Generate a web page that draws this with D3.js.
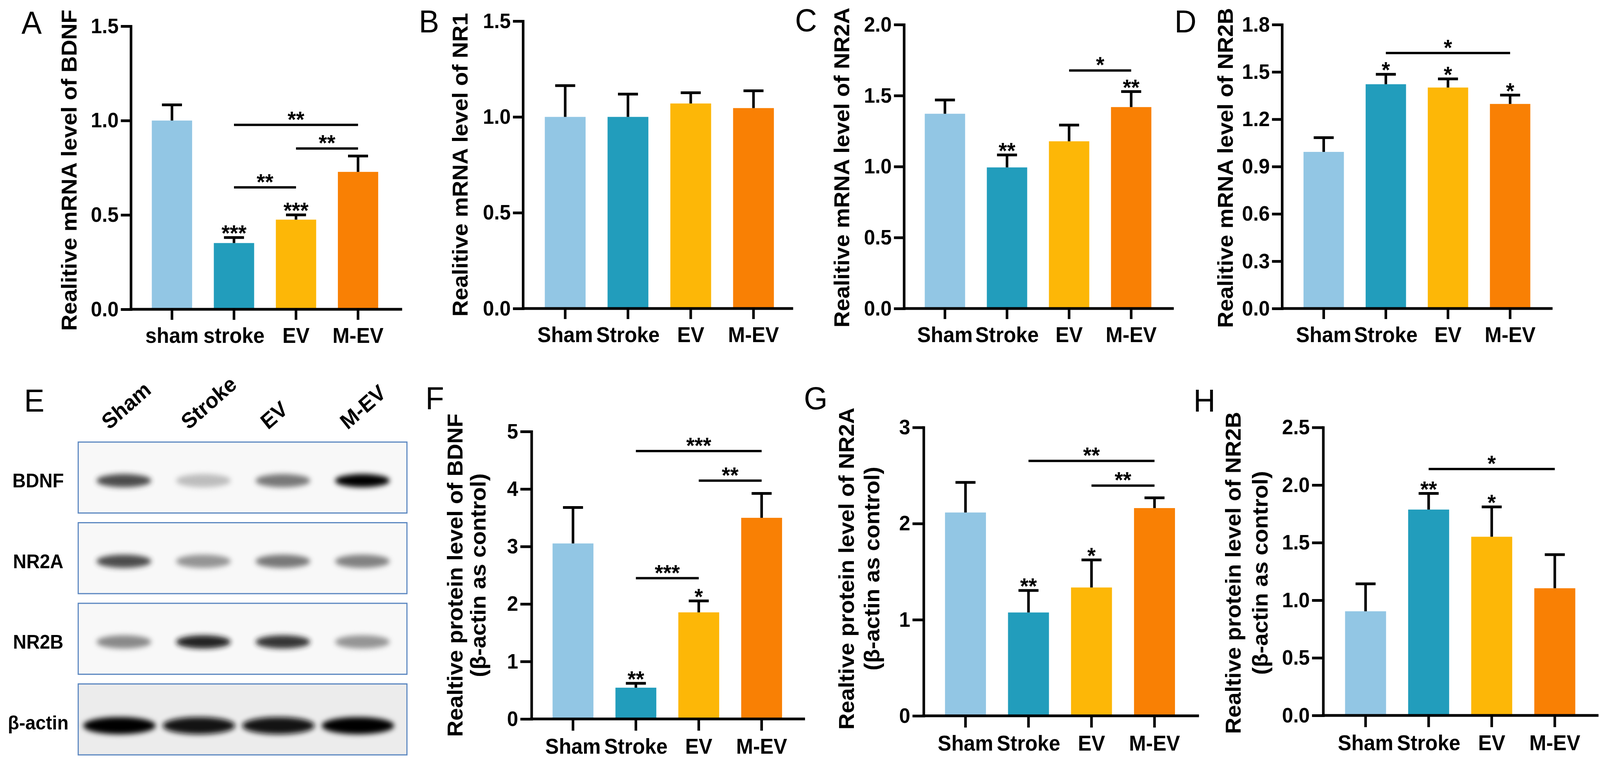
<!DOCTYPE html>
<html>
<head>
<meta charset="utf-8">
<script src="https://cdn.jsdelivr.net/npm/d3@7"></script>
<style>
html, body { margin: 0; padding: 0; background: #fff; overflow: hidden; }
#fig { display: block; width: 100vw; height: 100vh; }
svg text { font-family: "Liberation Sans", Arial, sans-serif; }
</style>
</head>
<body>
<svg id="fig" viewBox="0 0 4317 1941" preserveAspectRatio="none"></svg>
<script>
// categories
const groupsLower = ["sham", "stroke", "EV", "M-EV"]
const groups = ["Sham", "Stroke", "EV", "M-EV"]
const barColors = ["#92c6e4", "#229dbc", "#fdb707", "#f98004"]

// A-D: mRNA (mean, SEM)
const mrnaBDNF = [1.00, 0.351, 0.475, 0.728]
const mrnaBDNFErr = [0.083, 0.029, 0.025, 0.084]
const mrnaNR1 = [1.00, 1.00, 1.07, 1.046]
const mrnaNR1Err = [0.163, 0.119, 0.056, 0.090]
const mrnaNR2A = [1.372, 0.994, 1.178, 1.419]
const mrnaNR2AErr = [0.097, 0.088, 0.114, 0.109]
const mrnaNR2B = [0.993, 1.422, 1.401, 1.297]
const mrnaNR2BErr = [0.090, 0.063, 0.055, 0.056]

// F-H: protein (mean, SEM)
const protBDNF = [3.053, 0.544, 1.854, 3.499]
const protBDNFErr = [0.625, 0.076, 0.200, 0.425]
const protNR2A = [2.115, 1.075, 1.335, 2.161]
const protNR2AErr = [0.313, 0.229, 0.287, 0.107]
const protNR2B = [0.904, 1.787, 1.551, 1.104]
const protNR2BErr = [0.238, 0.140, 0.259, 0.292]

// stars above bars
const starsA = ["", "***", "***", ""]
const starsB = ["", "", "", ""]
const starsC = ["", "**", "", "**"]
const starsD = ["", "*", "*", "*"]
const starsF = ["", "**", "*", ""]
const starsG = ["", "**", "*", ""]
const starsH = ["", "**", "*", ""]

// comparison brackets: [from group, to group, height, label]
const sigA = [[1, 3, 0.977, "**"], [2, 3, 0.852, "**"], [1, 2, 0.646, "**"]]
const sigC = [[2, 3, 1.677, "*"]]
const sigD = [[1, 3, 1.620, "*"]]
const sigF = [[1, 3, 4.66, "***"], [2, 3, 4.145, "**"], [1, 2, 2.449, "***"]]
const sigG = [[1, 3, 2.652, "**"], [2, 3, 2.395, "**"]]
const sigH = [[1, 3, 2.139, "*"]]

// tick values
const ticksA = [0, 0.5, 1.0, 1.5]
const ticksC = [0, 0.5, 1.0, 1.5, 2.0]
const ticksD = [0, 0.3, 0.6, 0.9, 1.2, 1.5, 1.8]
const ticksF = [0, 1, 2, 3, 4, 5]
const ticksG = [0, 1, 2, 3]
const ticksH = [0, 0.5, 1.0, 1.5, 2.0, 2.5]

// western blot
const blotRows = ["BDNF", "NR2A", "NR2B", "β-actin"]
const blotIntensity = [
    [0.78, 0.30, 0.62, 1.00],
    [0.78, 0.50, 0.62, 0.58],
    [0.55, 0.90, 0.85, 0.50],
    [1.00, 0.95, 0.95, 1.00]
]

const svg = d3.select("#fig")

const panels = [
    { letter: "A", lx: 58, ly: 86, groups: groupsLower, values: mrnaBDNF, errs: mrnaBDNFErr, stars: starsA, sig: sigA, ticks: ticksA, fmt: ".1f",
      title: ["Realitive mRNA level of BDNF"], titleX: [207], titleY: 436,
      axisX: 353, axisEnd: 1085, band: [380.3, 1049.7], y0: 792, yTop: 67, row: 0 },
    { letter: "B", lx: 1130, ly: 83, groups: groups, values: mrnaNR1, errs: mrnaNR1Err, stars: starsB, sig: [], ticks: ticksA, fmt: ".1f",
      title: ["Realitive mRNA level of NR1"], titleX: [1262], titleY: 422,
      axisX: 1411, axisEnd: 2140, band: [1440.3, 2117.7], y0: 790, yTop: 54, row: 0 },
    { letter: "C", lx: 2145, ly: 80, groups: groups, values: mrnaNR2A, errs: mrnaNR2AErr, stars: starsC, sig: sigC, ticks: ticksC, fmt: ".1f",
      title: ["Realitive mRNA level of NR2A"], titleX: [2291], titleY: 429,
      axisX: 2439, axisEnd: 3167, band: [2465.8, 3135.8], y0: 790, yTop: 63, row: 0 },
    { letter: "D", lx: 3169, ly: 83, groups: groups, values: mrnaNR2B, errs: mrnaNR2BErr, stars: starsD, sig: sigD, ticks: ticksD, fmt: ".1f",
      title: ["Realitive mRNA level of NR2B"], titleX: [3326], titleY: 430,
      axisX: 3459, axisEnd: 4189, band: [3487.7, 4158.3], y0: 790, yTop: 63, row: 0 },
    { letter: "F", lx: 1148, ly: 1048, groups: groups, values: protBDNF, errs: protBDNFErr, stars: starsF, sig: sigF, ticks: ticksF, fmt: "d",
      title: ["Realtive protein level of BDNF", "(β-actin as control)"], titleX: [1248, 1310], titleY: 1473,
      axisX: 1434, axisEnd: 2172, band: [1461.2, 2139.8], y0: 1841, yTop: 1105, row: 1 },
    { letter: "G", lx: 2169, ly: 1048, groups: groups, values: protNR2A, errs: protNR2AErr, stars: starsG, sig: sigG, ticks: ticksG, fmt: "d",
      title: ["Realtive protein level of NR2A", "(β-actin as control)"], titleX: [2304, 2372], titleY: 1456,
      axisX: 2492, axisEnd: 3235, band: [2520, 3200], y0: 1833, yTop: 1094.5, row: 1 },
    { letter: "H", lx: 3220, ly: 1054, groups: groups, values: protNR2B, errs: protNR2BErr, stars: starsH, sig: sigH, ticks: ticksH, fmt: ".1f",
      title: ["Realtive protein level of NR2B", "(β-actin as control)"], titleX: [3347, 3420], titleY: 1467,
      axisX: 3570, axisEnd: 4313, band: [3599.4, 4280.1], y0: 1832, yTop: 1094.5, row: 1 }
]

const LW = 7
const FONT = "'Liberation Sans', Arial, sans-serif"

function drawBarPanel(p) {
    const g = svg.append("g")
    const x = d3.scaleBand().domain(p.groups).range(p.band).paddingInner(0.35).paddingOuter(0.175)
    const y = d3.scaleLinear().domain([0, d3.max(p.ticks)]).range([p.y0, p.yTop])
    const cx = i => x(p.groups[i]) + x.bandwidth() / 2
    const tickLen = p.row === 0 ? 27 : 30

    g.selectAll(".bar").data(p.values).enter().append("rect")
        .attr("x", (d, i) => x(p.groups[i])).attr("width", x.bandwidth())
        .attr("y", d => y(d)).attr("height", d => y(0) - y(d))
        .attr("fill", (d, i) => barColors[i])

    // error bars (upper only)
    g.selectAll(".stem").data(p.values).enter().append("line")
        .attr("x1", (d, i) => cx(i)).attr("x2", (d, i) => cx(i))
        .attr("y1", d => y(d)).attr("y2", (d, i) => y(d + p.errs[i]))
        .attr("stroke", "#000").attr("stroke-width", LW)
    g.selectAll(".cap").data(p.values).enter().append("line")
        .attr("x1", (d, i) => cx(i) - 27).attr("x2", (d, i) => cx(i) + 27)
        .attr("y1", (d, i) => y(d + p.errs[i])).attr("y2", (d, i) => y(d + p.errs[i]))
        .attr("stroke", "#000").attr("stroke-width", LW)

    // stars above bars
    g.selectAll(".star").data(p.stars).enter().append("text")
        .attr("x", (d, i) => cx(i)).attr("y", (d, i) => y(p.values[i] + p.errs[i]) + 9)
        .attr("text-anchor", "middle").attr("font-size", 58).attr("font-weight", "bold")
        .text(d => d)

    // comparison brackets
    g.selectAll(".sig").data(p.sig).enter().append("line")
        .attr("x1", d => cx(d[0])).attr("x2", d => cx(d[1]))
        .attr("y1", d => y(d[2])).attr("y2", d => y(d[2]))
        .attr("stroke", "#000").attr("stroke-width", 6)
    g.selectAll(".sigt").data(p.sig).enter().append("text")
        .attr("x", d => (cx(d[0]) + cx(d[1])) / 2).attr("y", d => y(d[2]) + 6)
        .attr("text-anchor", "middle").attr("font-size", 58).attr("font-weight", "bold")
        .text(d => d[3])

    // y axis
    const ya = g.append("g").attr("transform", `translate(${p.axisX},0)`)
        .call(d3.axisLeft(y).tickValues(p.ticks).tickFormat(d3.format(p.fmt)).tickSize(tickLen).tickSizeOuter(0).tickPadding(6))
    ya.select(".domain").attr("stroke-width", LW).attr("stroke-linecap", "square")
    ya.selectAll(".tick line").attr("stroke-width", LW)
    ya.selectAll("text").attr("font-size", 54).attr("font-weight", "bold").attr("font-family", FONT).attr("fill", "#000")

    // x axis
    const xa = g.append("g").attr("transform", `translate(0,${p.y0})`)
        .call(d3.axisBottom(x).tickSize(tickLen).tickSizeOuter(0).tickPadding(20))
    xa.select(".domain").remove()
    xa.selectAll(".tick line").attr("stroke-width", LW)
    xa.selectAll("text").attr("font-size", 55).attr("font-weight", "bold").attr("font-family", FONT).attr("fill", "#000")
    g.append("line").attr("x1", p.axisX - LW / 2).attr("x2", p.axisEnd)
        .attr("y1", p.y0).attr("y2", p.y0).attr("stroke", "#000").attr("stroke-width", LW)

    // y title
    p.title.forEach((t, k) => {
        g.append("text").attr("transform", `translate(${p.titleX[k]},${p.titleY}) rotate(-90)`)
            .attr("text-anchor", "middle").attr("font-size", 58).attr("font-weight", "bold")
            .attr("xml:space", "preserve").text(t)
    })

    // panel letter
    svg.append("text").attr("x", p.lx).attr("y", p.ly)
        .attr("font-family", "Lato, 'Open Sans', sans-serif").attr("font-size", 82)
        .text(p.letter)
}

panels.forEach(drawBarPanel)

// ---- E: western blot ----
function drawBlot() {
    const g = svg.append("g")
    const lane = d3.scaleBand().domain(groups).range([227, 1085])
    const row = d3.scaleBand().domain(blotRows).range([1132, 1933]).paddingInner(0.12).paddingOuter(0)
    const shade = d3.interpolateRgb("#d0d0d0", "#050505")

    const defs = svg.append("defs")
    defs.append("filter").attr("id", "blur").attr("x", "-30%").attr("y", "-80%").attr("width", "160%").attr("height", "260%")
        .append("feGaussianBlur").attr("stdDeviation", 7)

    blotRows.forEach((r, ri) => {
        const actin = r === "β-actin"
        g.append("rect").attr("x", 211).attr("y", row(r)).attr("width", 887).attr("height", row.bandwidth())
            .attr("fill", actin ? "#ececec" : "#f8f8f8").attr("stroke", "#5a86c0").attr("stroke-width", 3)
        const cy = row(r) + row.bandwidth() / 2 + (actin ? 16 : 8)
        g.selectAll(null).data(blotIntensity[ri]).enter().append("ellipse")
            .attr("cx", (d, i) => lane(groups[i]) + lane.bandwidth() / 2 - (actin ? 12 : 0))
            .attr("cy", cy)
            .attr("rx", actin ? 98 : 74).attr("ry", actin ? 22 : 17)
            .attr("fill", d => shade(d)).attr("opacity", d => 0.4 + 0.6 * d)
            .attr("filter", "url(#blur)")
        g.append("text").attr("x", 103).attr("y", row(r) + row.bandwidth() / 2 + 8)
            .attr("dy", "0.35em").attr("text-anchor", "middle")
            .attr("font-family", "Lato, 'Open Sans', sans-serif").attr("font-weight", "bold").attr("font-size", 50)
            .text(r)
    })

    g.selectAll(".lane").data(groups).enter().append("text")
        .attr("transform", d => `translate(${lane(d) + lane.bandwidth() / 2 - 40},1102) rotate(-40)`)
        .attr("font-family", "Lato, 'Open Sans', sans-serif").attr("font-weight", "bold").attr("font-size", 56)
        .text(d => d)

    svg.append("text").attr("x", 65).attr("y", 1054)
        .attr("font-family", "Lato, 'Open Sans', sans-serif").attr("font-size", 82)
        .text("E")
}
drawBlot()
</script>
</body>
</html>
